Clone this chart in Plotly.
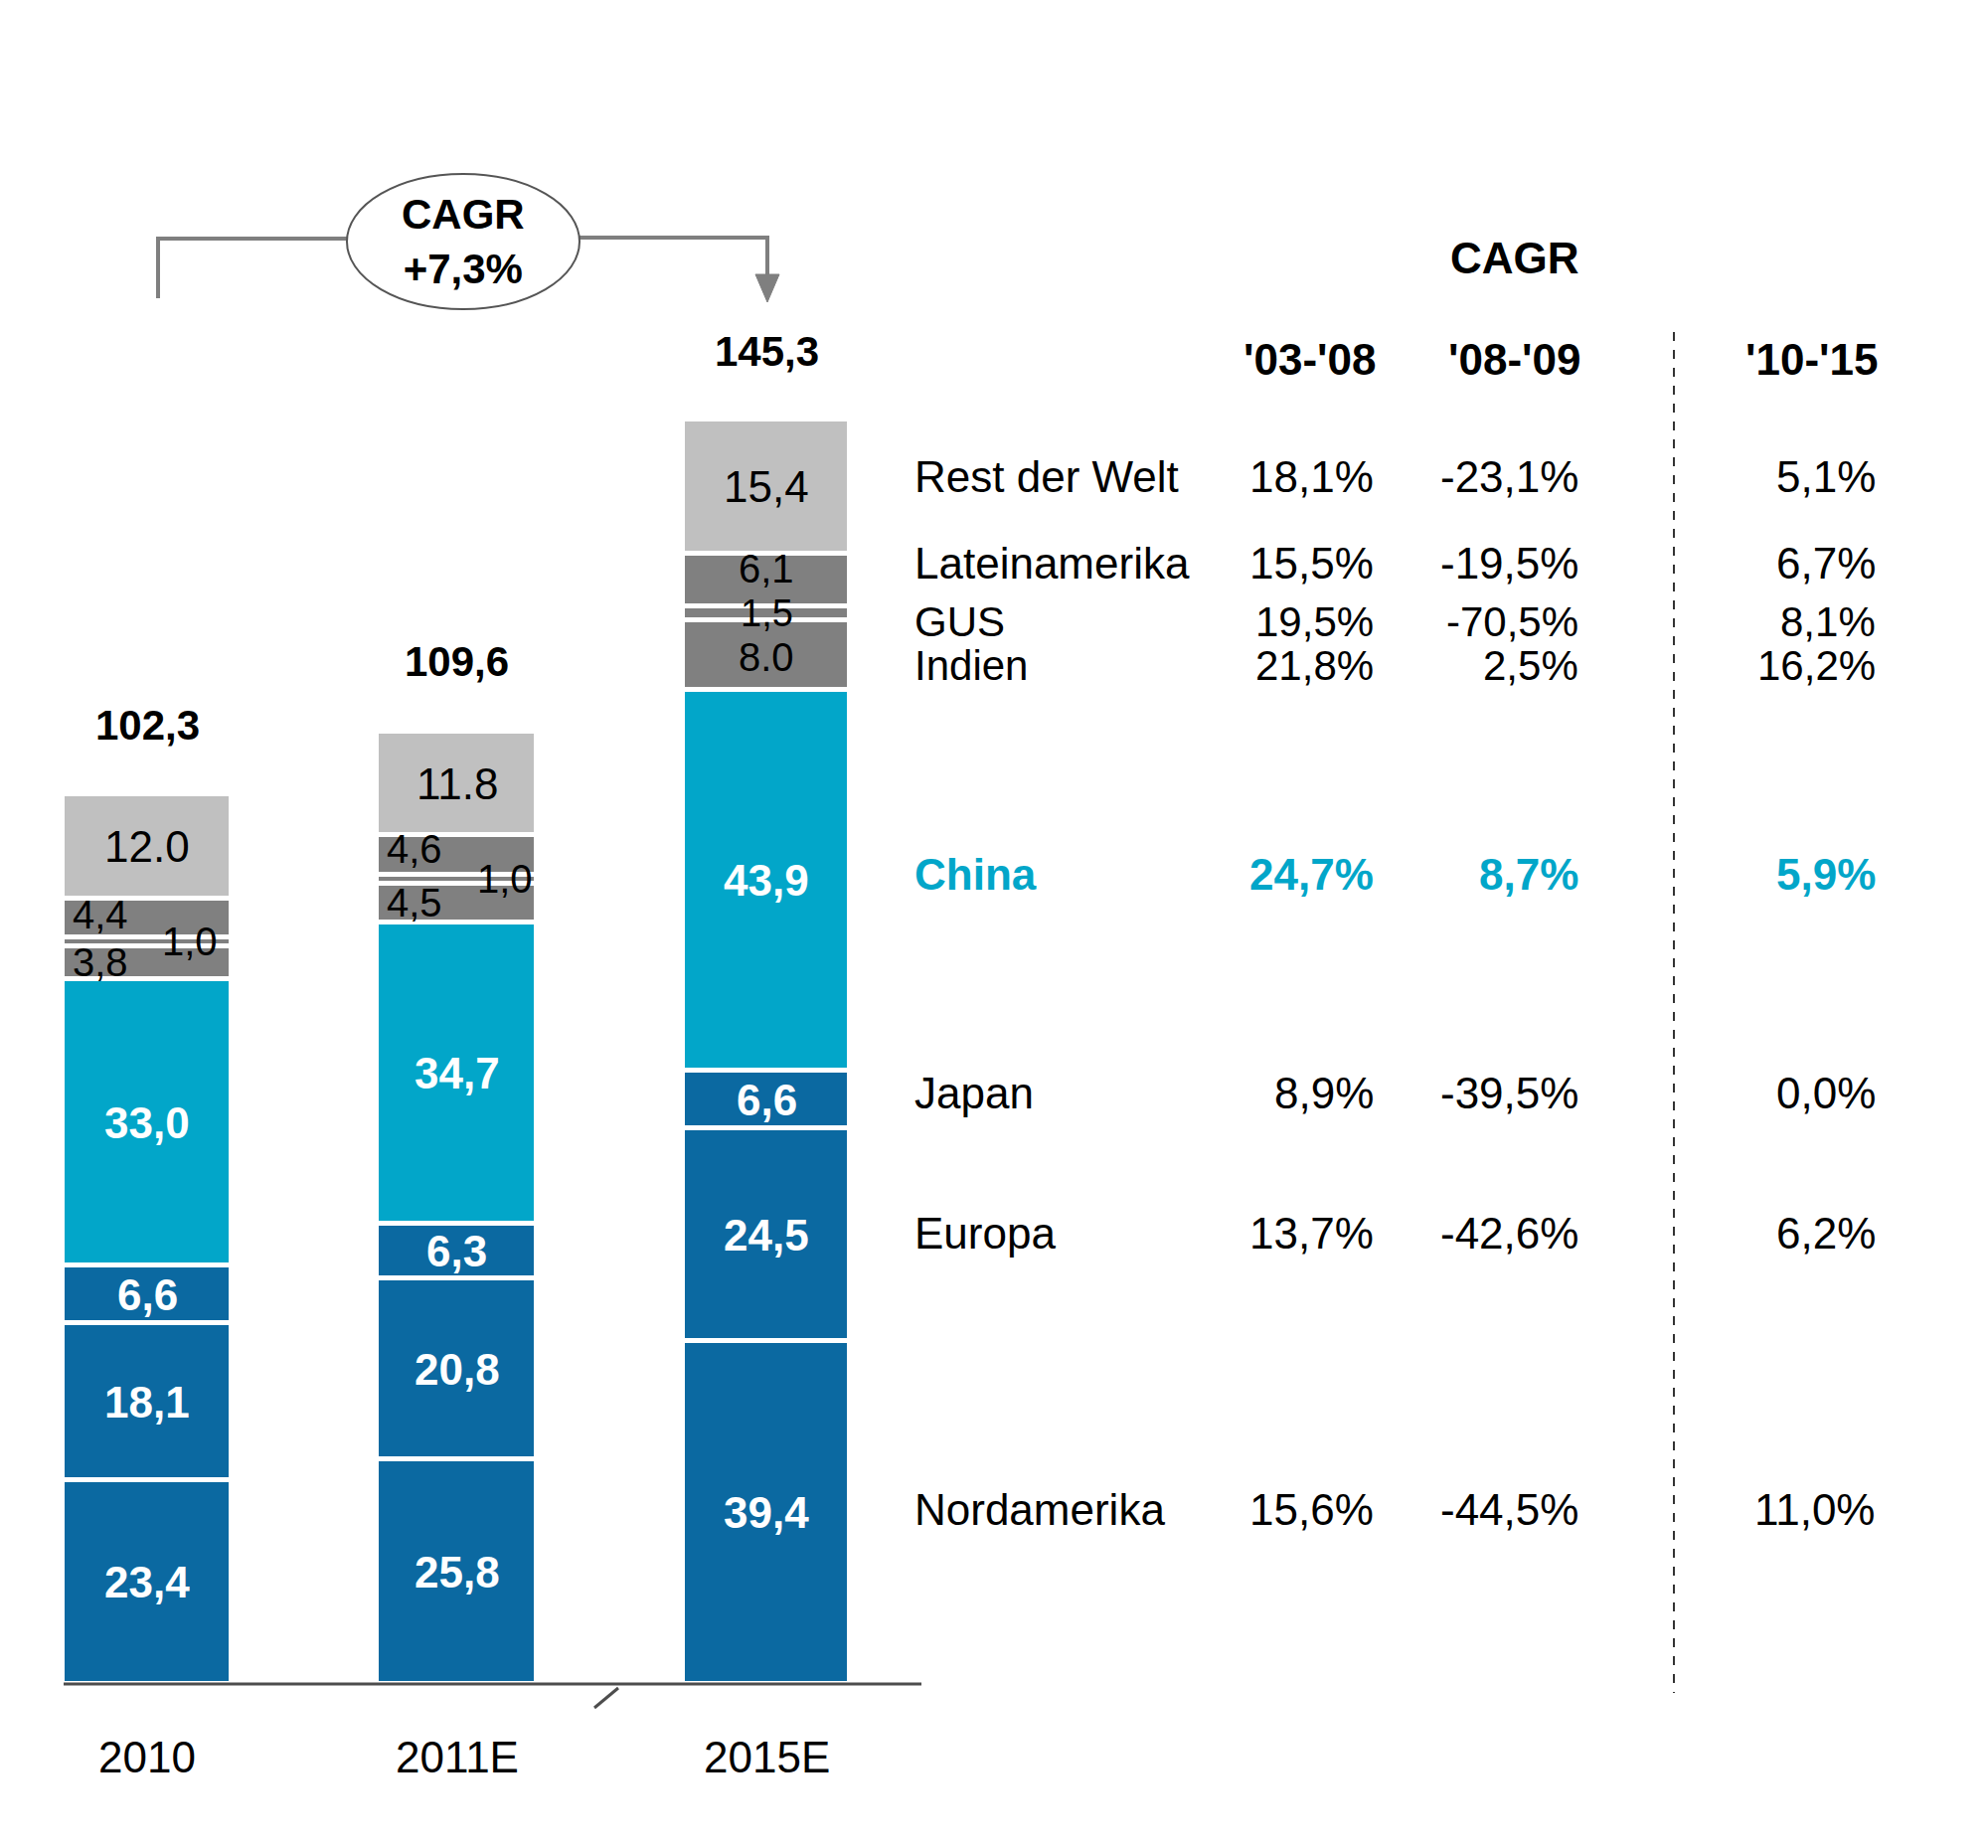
import plotly.graph_objects as go

# ---------------- data ----------------
years = ["2010", "2011E", "2015E"]
regions = ["Nordamerika", "Europa", "Japan", "China", "Indien", "GUS", "Lateinamerika", "Rest der Welt"]
nordamerika = [23.4, 25.8, 39.4]
europa = [18.1, 20.8, 24.5]
japan = [6.6, 6.3, 6.6]
china = [33.0, 34.7, 43.9]
indien = [3.8, 4.5, 8.0]
gus = [1.0, 1.0, 1.5]
lateinamerika = [4.4, 4.6, 6.1]
rest_der_welt = [12.0, 11.8, 15.4]
totals = [102.3, 109.6, 145.3]
total_labels = ["102,3", "109,6", "145,3"]

labels_2010 = ["23,4", "18,1", "6,6", "33,0", "3,8", "1,0", "4,4", "12.0"]
labels_2011 = ["25,8", "20,8", "6,3", "34,7", "4,5", "1,0", "4,6", "11.8"]
labels_2015 = ["39,4", "24,5", "6,6", "43,9", "8.0", "1,5", "6,1", "15,4"]

cagr_total = "+7,3%"
table_regions = ["Rest der Welt", "Lateinamerika", "GUS", "Indien", "China", "Japan", "Europa", "Nordamerika"]
cagr_03_08 = [18.1, 15.5, 19.5, 21.8, 24.7, 8.9, 13.7, 15.6]
cagr_08_09 = [-23.1, -19.5, -70.5, 2.5, 8.7, -39.5, -42.6, -44.5]
cagr_10_15 = [5.1, 6.7, 8.1, 16.2, 5.9, 0.0, 6.2, 11.0]
period_headers = ["'03-'08", "'08-'09", "'10-'15"]

# ---------------- style / layout ----------------
W, H = 2000, 1859
FONT = "Liberation Sans, Arial, sans-serif"
DARK_BLUE = "#0b69a1"
CYAN = "#02a6c9"
DARK_GRAY = "#808080"
LIGHT_GRAY = "#c0c0c0"
seg_colors = [DARK_BLUE, DARK_BLUE, DARK_BLUE, CYAN, DARK_GRAY, DARK_GRAY, DARK_GRAY, LIGHT_GRAY]
seg_text_colors = ["white", "white", "white", "white", "black", "black", "black", "black"]

PX_PER_CAT = 311.7
X0_PX = 148.0
BASE_PX = 1694.0
PX_PER_UNIT = 8.745
xmin = -X0_PX / PX_PER_CAT
xmax = xmin + W / PX_PER_CAT
ymax = BASE_PX / PX_PER_UNIT
ymin = (BASE_PX - H) / PX_PER_UNIT
bar_widths = [0.5425, 0.517, 0.539]


def px(x):
    return x / W


def py(y):
    return 1 - y / H


series = [nordamerika, europa, japan, china, indien, gus, lateinamerika, rest_der_welt]
all_labels = [labels_2010, labels_2011, labels_2015]
xpos = [0, 1, 2]

fig = go.Figure()
for name, vals, col in zip(regions, series, seg_colors):
    fig.add_trace(go.Bar(
        x=xpos, y=vals, name=name, width=bar_widths,
        marker=dict(color=col, line=dict(color="white", width=5)),
        hoverinfo="skip", showlegend=False,
    ))

annotations = []
# placement: (align, xshift_px, yshift_px, font size) for small grey segments
placement = {
    (0, 4): ("left", 8, 0, 40), (0, 5): ("right", -12, 0, 40), (0, 6): ("left", 8, 4, 40),
    (1, 4): ("left", 8, 0, 40), (1, 5): ("right", -2, 0, 40), (1, 6): ("left", 8, 6, 40),
    (2, 4): ("center", 0, -2, 40), (2, 5): ("center", 0, 0, 38), (2, 6): ("center", 0, 12, 40),
}
for i in range(3):
    base = 0.0
    for j, vals in enumerate(series):
        v = vals[i]
        mid = base + v / 2
        base += v
        align, xs, ys, fs = placement.get((i, j), ("center", 0, 0, 44))
        if align == "left":
            xa = i - bar_widths[i] / 2
        elif align == "right":
            xa = i + bar_widths[i] / 2
        else:
            xa = i
        txt = all_labels[i][j]
        if seg_text_colors[j] == "white":
            txt = "<b>" + txt + "</b>"
        annotations.append(dict(
            x=xa, y=mid, xref="x", yref="y", text=txt, showarrow=False,
            xanchor=align, yanchor="middle", xshift=xs, yshift=ys,
            font=dict(family=FONT, size=fs, color=seg_text_colors[j]),
        ))
    # total label
    annotations.append(dict(
        x=i, y=totals[i], xref="x", yref="y", text="<b>" + total_labels[i] + "</b>",
        showarrow=False, xanchor="center", yanchor="middle", yshift=70,
        font=dict(family=FONT, size=42, color="black"),
    ))
    # category label
    annotations.append(dict(
        x=i, y=py(1767), xref="x", yref="paper", text=years[i], showarrow=False,
        xanchor="center", yanchor="middle",
        font=dict(family=FONT, size=44, color="black"),
    ))

# CAGR ellipse text
annotations.append(dict(
    x=px(466), y=py(243), xref="paper", yref="paper",
    text="<b>CAGR<br>" + cagr_total + "</b>", showarrow=False,
    xanchor="center", yanchor="middle", font=dict(family=FONT, size=42, color="black"),
))

# table
annotations.append(dict(
    x=px(1524), y=py(259), xref="paper", yref="paper", text="<b>CAGR</b>", showarrow=False,
    xanchor="center", yanchor="middle", font=dict(family=FONT, size=44, color="black"),
))
col_right = [1386, 1592, 1891]
for h, xr in zip(period_headers, col_right):
    annotations.append(dict(
        x=px(xr), y=py(361), xref="paper", yref="paper", text="<b>" + h + "</b>",
        showarrow=False, xanchor="right", yanchor="middle",
        font=dict(family=FONT, size=44, color="black"),
    ))

row_y = [480, 566, 625, 670, 879, 1099, 1240, 1518]


def fmt(v):
    return f"{v:.1f}".replace(".", ",") + "%"


for k, reg in enumerate(table_regions):
    is_china = reg == "China"
    col = CYAN if is_china else "black"
    b0, b1 = ("<b>", "</b>") if is_china else ("", "")
    fs = 42 if reg in ("GUS", "Indien") else 44
    annotations.append(dict(
        x=px(918), y=py(row_y[k]), xref="paper", yref="paper", text=b0 + reg + b1,
        showarrow=False, xanchor="left", yanchor="middle",
        font=dict(family=FONT, size=fs, color=col),
    ))
    for vals, xr in zip([cagr_03_08, cagr_08_09, cagr_10_15], col_right):
        annotations.append(dict(
            x=px(xr - 2), y=py(row_y[k]), xref="paper", yref="paper", text=b0 + fmt(vals[k]) + b1,
            showarrow=False, xanchor="right", yanchor="middle",
            font=dict(family=FONT, size=fs, color=col),
        ))

shapes = [
    # baseline
    dict(type="line", xref="paper", yref="y", x0=px(64), x1=px(927), y0=0, y1=0,
         line=dict(color="#4d4d4d", width=3)),
    # break mark
    dict(type="line", xref="paper", yref="paper", x0=px(598), y0=py(1718), x1=px(622), y1=py(1698),
         line=dict(color="#4d4d4d", width=3)),
    # dashed divider
    dict(type="line", xref="paper", yref="paper", x0=px(1684), x1=px(1684), y0=py(334), y1=py(1703),
         line=dict(color="#333333", width=2, dash="dash")),
    # CAGR bracket left
    dict(type="path", xref="paper", yref="paper",
         path=f"M {px(159)},{py(300)} L {px(159)},{py(240)} L {px(350)},{py(240)}",
         line=dict(color="#7f7f7f", width=4)),
    # CAGR bracket right
    dict(type="path", xref="paper", yref="paper",
         path=f"M {px(582)},{py(239)} L {px(772)},{py(239)} L {px(772)},{py(282)}",
         line=dict(color="#7f7f7f", width=4)),
    # arrow head
    dict(type="path", xref="paper", yref="paper",
         path=f"M {px(760)},{py(276)} L {px(784)},{py(276)} L {px(772)},{py(304)} Z",
         fillcolor="#7f7f7f", line=dict(color="#7f7f7f", width=1)),
    # ellipse
    dict(type="circle", xref="paper", yref="paper", x0=px(349), x1=px(583), y0=py(311), y1=py(175),
         fillcolor="white", line=dict(color="#555555", width=2)),
]

fig.update_layout(
    width=W, height=H,
    margin=dict(l=0, r=0, t=0, b=0),
    paper_bgcolor="white", plot_bgcolor="white",
    barmode="stack", bargap=0,
    xaxis=dict(range=[xmin, xmax], visible=False, fixedrange=True),
    yaxis=dict(range=[ymin, ymax], visible=False, fixedrange=True),
    annotations=annotations, shapes=shapes,
    showlegend=False,
)
fig.write_html("out.html")
